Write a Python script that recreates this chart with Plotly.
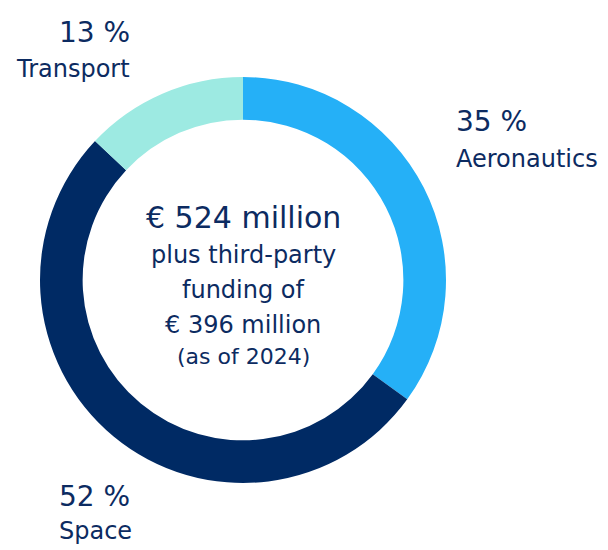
import plotly.graph_objects as go

categories = ["Aeronautics", "Space", "Transport"]
shares = [35, 52, 13]
colors = ["#25b0f7", "#002a64", "#9deae2"]
center_lines = ["€ 524 million", "plus third-party", "funding of", "€ 396 million", "(as of 2024)"]

W, H = 608, 550
OFF = 8  # page body margin
TXT = "#0c2b61"
FONT = "DejaVu Sans"


def px(x):
    return (x - OFF) / W


def py(y):
    return 1 - (y - OFF) / H


fig = go.Figure(go.Pie(
    labels=categories, values=shares, hole=0.79, sort=False,
    direction="clockwise", rotation=0,
    marker=dict(colors=colors, line=dict(width=0)),
    textinfo="none", hoverinfo="skip", showlegend=False,
    domain=dict(x=[px(40), px(446)], y=[py(483), py(77)]),
))

ann = []
label_pos = {
    "Transport": (132, "right", 33, 69),
    "Aeronautics": (454, "left", 121, 159),
    "Space": (57, "left", 496, 531),
}
for cat, val in zip(categories, shares):
    x, anc, yp, yn = label_pos[cat]
    ann.append(dict(x=px(x), y=py(yp), text=f"{val} %", xanchor=anc, yanchor="middle",
                    font=dict(size=28, color=TXT, family=FONT)))
    ann.append(dict(x=px(x), y=py(yn), text=cat, xanchor=anc, yanchor="middle",
                    font=dict(size=24, color=TXT, family=FONT)))

center_y = [217, 255, 290, 325, 356]
center_size = [30, 24, 24, 24, 22]
for t, y, s in zip(center_lines, center_y, center_size):
    ann.append(dict(x=px(243), y=py(y), text=t, xanchor="center", yanchor="middle",
                    font=dict(size=s, color=TXT, family=FONT)))

for a in ann:
    a.update(xref="paper", yref="paper", showarrow=False)

fig.update_layout(
    width=W, height=H, margin=dict(l=0, r=0, t=0, b=0),
    paper_bgcolor="white", plot_bgcolor="white",
    annotations=ann,
)
fig.write_html("out.html")
